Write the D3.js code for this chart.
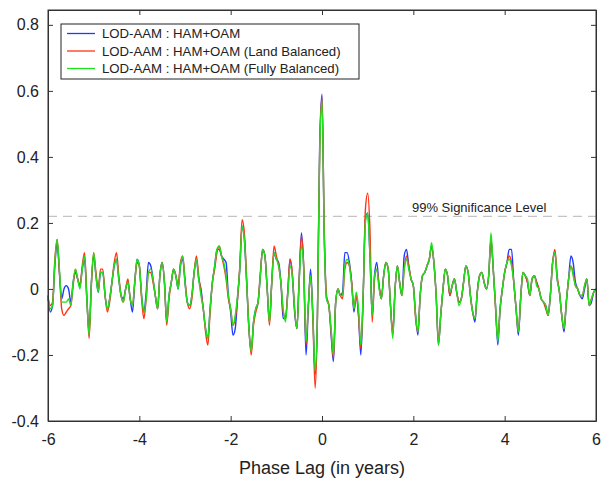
<!DOCTYPE html>
<html>
<head>
<meta charset="utf-8">
<script src="https://cdn.jsdelivr.net/npm/d3@7"></script>
<style>
  body { margin: 0; background: #fff; }
  svg { display: block; font-family: "Liberation Sans", Arial, sans-serif; }
</style>
</head>
<body>
<svg id="chart"></svg>
<script>
// lag grid: -6 .. 6 years, 0.05 yr apart (241 points)
var lags = d3.range(241).map(function(i) { return +(-6 + i * 0.05).toFixed(2); });

// LOD-AAM : HAM+OAM
var hamOam = [
  -0.02,-0.07,-0.05,0.07,0.14,0.05,-0.03,0.00,0.01,0.00,-0.04,0.02,0.05,0.03,0.01,0.06,0.09,-0.03,-0.13,0.02,
  0.10,0.04,-0.01,0.05,0.05,-0.02,-0.06,-0.03,0.02,0.07,0.09,0.03,-0.02,-0.03,0.00,0.02,-0.03,-0.07,0.02,0.09,
  0.07,-0.02,-0.07,-0.01,0.08,0.07,0.03,-0.02,-0.06,0.04,0.08,0.02,-0.10,-0.02,0.02,0.06,0.04,0.00,0.07,0.09,
  0.02,-0.04,-0.05,-0.02,0.05,0.09,0.03,0.00,-0.06,-0.12,-0.15,-0.06,0.02,0.07,0.12,0.12,0.10,0.09,0.08,-0.02,
  -0.07,-0.14,-0.12,-0.03,0.06,0.19,0.15,0.02,-0.12,-0.19,-0.10,-0.06,-0.04,0.04,0.12,0.10,0.00,-0.10,0.02,0.11,
  0.09,0.08,0.02,-0.09,-0.09,-0.01,0.09,0.04,-0.07,-0.12,0.03,0.17,0.06,-0.20,-0.06,0.06,-0.08,-0.26,-0.08,0.44,
  0.59,0.16,-0.03,-0.05,-0.14,-0.22,-0.04,0.00,-0.02,-0.01,0.11,0.11,0.08,0.02,-0.07,-0.02,-0.08,-0.20,-0.03,0.21,
  0.23,0.10,-0.08,0.04,0.08,0.01,-0.03,0.04,0.08,0.06,-0.05,-0.14,0.00,0.07,0.02,-0.02,0.10,0.12,0.07,0.03,
  0.01,-0.08,-0.14,-0.02,0.04,0.05,0.07,0.09,0.13,0.08,-0.02,-0.17,-0.08,0.00,0.06,0.04,-0.02,0.01,0.03,-0.01,
  -0.04,-0.03,0.02,0.07,0.05,-0.02,-0.07,-0.10,-0.01,0.04,0.05,0.02,0.00,0.04,0.15,0.06,-0.05,-0.17,-0.06,0.00,
  0.05,0.08,0.12,0.12,0.02,-0.06,-0.14,-0.03,0.05,0.04,0.02,-0.02,0.03,0.04,0.02,0.00,-0.03,-0.04,-0.05,-0.08,
  -0.02,0.08,0.11,0.03,-0.01,-0.08,-0.13,-0.04,0.03,0.10,0.08,0.02,0.00,-0.02,-0.03,0.00,0.03,-0.05,-0.04,-0.01,
  0.00
];

// LOD-AAM : HAM+OAM (Land Balanced)
var landBalanced = [
  -0.03,-0.05,-0.04,0.09,0.15,0.05,-0.06,-0.08,-0.07,-0.06,-0.05,0.01,0.06,0.03,0.01,0.07,0.11,-0.02,-0.15,0.01,
  0.11,0.05,0.00,0.06,0.06,-0.02,-0.07,-0.04,0.02,0.08,0.11,0.04,-0.02,-0.04,0.00,0.03,-0.03,-0.05,0.02,0.08,
  0.07,-0.03,-0.09,-0.03,0.05,0.05,0.02,-0.02,-0.06,0.04,0.08,0.02,-0.11,-0.03,0.02,0.06,0.04,0.01,0.08,0.10,
  0.03,-0.04,-0.06,-0.03,0.05,0.10,0.04,-0.01,-0.06,-0.13,-0.17,-0.07,0.02,0.06,0.11,0.13,0.10,0.07,0.03,-0.03,
  -0.06,-0.11,-0.09,-0.03,0.07,0.21,0.17,0.03,-0.12,-0.20,-0.11,-0.07,-0.04,0.05,0.12,0.10,0.00,-0.11,0.02,0.13,
  0.10,0.07,0.02,-0.07,-0.09,-0.01,0.09,0.05,-0.06,-0.12,0.03,0.16,0.07,-0.17,-0.05,0.04,-0.09,-0.30,-0.09,0.43,
  0.58,0.17,-0.02,-0.05,-0.13,-0.21,-0.04,0.00,-0.02,-0.03,0.06,0.08,0.07,0.02,-0.06,-0.02,-0.08,-0.18,-0.03,0.24,
  0.29,0.18,-0.10,0.03,0.06,0.01,-0.03,0.04,0.08,0.06,-0.05,-0.13,0.00,0.07,0.02,-0.02,0.06,0.10,0.07,0.03,
  0.01,-0.09,-0.13,-0.02,0.04,0.05,0.07,0.09,0.13,0.08,-0.02,-0.16,-0.08,0.00,0.06,0.04,-0.02,0.01,0.03,-0.01,
  -0.04,-0.03,0.02,0.07,0.05,-0.02,-0.07,-0.09,-0.01,0.04,0.05,0.02,0.00,0.04,0.15,0.06,-0.06,-0.15,-0.06,0.00,
  0.05,0.08,0.10,0.08,0.02,-0.06,-0.13,-0.03,0.05,0.04,0.02,-0.02,0.03,0.04,0.02,0.00,-0.03,-0.04,-0.06,-0.08,
  -0.02,0.08,0.12,0.04,-0.01,-0.08,-0.12,-0.04,0.03,0.07,0.05,0.01,0.00,-0.02,-0.02,0.01,0.03,-0.05,-0.03,-0.01,
  0.00
];

// LOD-AAM : HAM+OAM (Fully Balanced)
var fullyBalanced = [
  -0.02,-0.06,-0.05,0.08,0.15,0.06,-0.04,-0.04,-0.04,-0.03,-0.05,0.02,0.06,0.03,0.00,0.06,0.10,-0.03,-0.14,0.02,
  0.11,0.04,-0.01,0.05,0.05,-0.02,-0.06,-0.03,0.02,0.07,0.09,0.03,-0.02,-0.04,0.00,0.02,-0.03,-0.05,0.02,0.09,
  0.07,-0.02,-0.07,-0.03,0.05,0.06,0.03,-0.02,-0.06,0.04,0.08,0.02,-0.10,-0.02,0.02,0.06,0.04,0.00,0.07,0.10,
  0.02,-0.04,-0.05,-0.02,0.05,0.09,0.03,-0.02,-0.06,-0.12,-0.15,-0.06,0.02,0.07,0.12,0.13,0.10,0.08,0.04,-0.02,
  -0.06,-0.11,-0.08,-0.02,0.06,0.19,0.15,0.02,-0.12,-0.19,-0.10,-0.06,-0.04,0.04,0.12,0.10,0.00,-0.10,0.02,0.11,
  0.09,0.07,0.02,-0.06,-0.10,-0.02,0.07,0.04,-0.06,-0.12,0.02,0.13,0.06,-0.16,-0.05,0.04,-0.08,-0.25,-0.08,0.42,
  0.57,0.15,-0.03,-0.05,-0.12,-0.20,-0.04,0.00,-0.02,-0.02,0.07,0.09,0.07,0.01,-0.06,-0.01,-0.06,-0.17,-0.02,0.20,
  0.23,0.10,-0.08,0.04,0.06,0.00,-0.03,0.04,0.08,0.06,-0.05,-0.15,0.00,0.07,0.02,-0.02,0.06,0.09,0.06,0.03,
  0.01,-0.08,-0.13,-0.02,0.04,0.05,0.07,0.09,0.14,0.08,-0.02,-0.17,-0.08,0.00,0.06,0.04,-0.01,0.01,0.03,-0.01,
  -0.05,-0.03,0.02,0.07,0.05,-0.02,-0.07,-0.09,-0.01,0.04,0.05,0.02,0.00,0.04,0.17,0.06,-0.05,-0.16,-0.06,0.00,
  0.05,0.08,0.09,0.07,0.02,-0.06,-0.13,-0.03,0.05,0.04,0.03,-0.02,0.03,0.04,0.01,0.00,-0.03,-0.04,-0.05,-0.08,
  -0.02,0.08,0.11,0.03,-0.01,-0.08,-0.12,-0.04,0.03,0.07,0.04,0.01,0.00,-0.02,-0.02,0.01,0.03,-0.05,-0.03,-0.01,
  0.00
];

var seriesNames = [
  'LOD-AAM : HAM+OAM',
  'LOD-AAM : HAM+OAM (Land Balanced)',
  'LOD-AAM : HAM+OAM (Fully Balanced)'
];
var xTicks = [-6, -4, -2, 0, 2, 4, 6];
var yTicks = [-0.4, -0.2, 0, 0.2, 0.4, 0.6, 0.8];
var significance = 0.22;

var colors = ['#1e3cff', '#ff3414', '#1fe01f'];

var svgWidth = 603;
var svgHeight = 484;
var margin = {top: 10, right: 7, bottom: 63, left: 48};
var width = svgWidth - margin.left - margin.right,
    height = svgHeight - margin.top - margin.bottom;

var svg = d3.select('#chart')
    .attr('width', svgWidth)
    .attr('height', svgHeight);

var g = svg.append('g')
    .attr('transform', 'translate(' + margin.left + ',' + margin.top + ')');

var x = d3.scaleLinear().domain([-6, 6]).range([0, width]);
var y = d3.scaleLinear().domain([-0.4, 0.845]).range([height, 0]);

// significance level
g.append('line')
    .attr('x1', 0)
    .attr('x2', width)
    .attr('y1', y(significance))
    .attr('y2', y(significance))
    .attr('stroke', '#c4c4c4')
    .attr('stroke-width', 1.3)
    .attr('stroke-dasharray', '9,6');

g.append('text')
    .attr('x', x(1.97))
    .attr('y', y(significance) - 4)
    .attr('font-size', 13)
    .attr('fill', '#222')
    .text('99% Significance Level');

// the three curves, blue under red under green
var line = d3.line()
    .x(function(d, i) { return x(lags[i]); })
    .y(function(d) { return y(d); })
    .curve(d3.curveMonotoneX);

var allSeries = [hamOam, landBalanced, fullyBalanced];

g.selectAll('.series')
    .data(allSeries)
  .enter().append('path')
    .attr('class', 'series')
    .attr('d', line)
    .attr('fill', 'none')
    .attr('stroke', function(d, i) { return colors[i]; })
    .attr('stroke-width', 1.4);

// axes (matlab style, ticks pointing in)
var fmt = function(d) { return String(d); };

g.append('g')
    .attr('transform', 'translate(0,' + height + ')')
    .call(d3.axisBottom(x).tickValues(xTicks).tickFormat(fmt).tickSizeInner(-5).tickSizeOuter(0).tickPadding(13));

g.append('g')
    .call(d3.axisLeft(y).tickValues(yTicks).tickFormat(fmt).tickSizeInner(-5).tickSizeOuter(0).tickPadding(9));

g.append('g')
    .call(d3.axisTop(x).tickValues(xTicks).tickFormat('').tickSizeInner(-5).tickSizeOuter(0));

g.append('g')
    .attr('transform', 'translate(' + width + ',0)')
    .call(d3.axisRight(y).tickValues(yTicks).tickFormat('').tickSizeInner(-5).tickSizeOuter(0));

g.selectAll('.domain').attr('stroke', '#333');
g.selectAll('.tick line').attr('stroke', '#333');
g.selectAll('.tick text')
    .attr('font-size', 16)
    .attr('fill', '#222')
    .attr('font-family', '"Liberation Sans", Arial, sans-serif');

g.append('rect')
    .attr('width', width)
    .attr('height', height)
    .attr('fill', 'none')
    .attr('stroke', '#333');

// x label
svg.append('text')
    .attr('x', margin.left + x(0))
    .attr('y', 474)
    .attr('text-anchor', 'middle')
    .attr('font-size', 18)
    .attr('fill', '#222')
    .text('Phase Lag (in years)');

// legend
var legend = svg.append('g')
    .attr('transform', 'translate(61,24)');

legend.append('rect')
    .attr('width', 298)
    .attr('height', 55)
    .attr('fill', '#fff')
    .attr('stroke', '#222');

var item = legend.selectAll('.item')
    .data(seriesNames)
  .enter().append('g')
    .attr('class', 'item')
    .attr('transform', function(d, i) { return 'translate(0,' + (9.5 + i * 17.5) + ')'; });

item.append('line')
    .attr('x1', 6)
    .attr('x2', 34)
    .attr('stroke', function(d, i) { return colors[i]; })
    .attr('stroke-width', 1.3);

item.append('text')
    .attr('x', 41)
    .attr('dy', '0.36em')
    .attr('font-size', 13.2)
    .attr('fill', '#222')
    .text(function(d) { return d; });
</script>
</body>
</html>
